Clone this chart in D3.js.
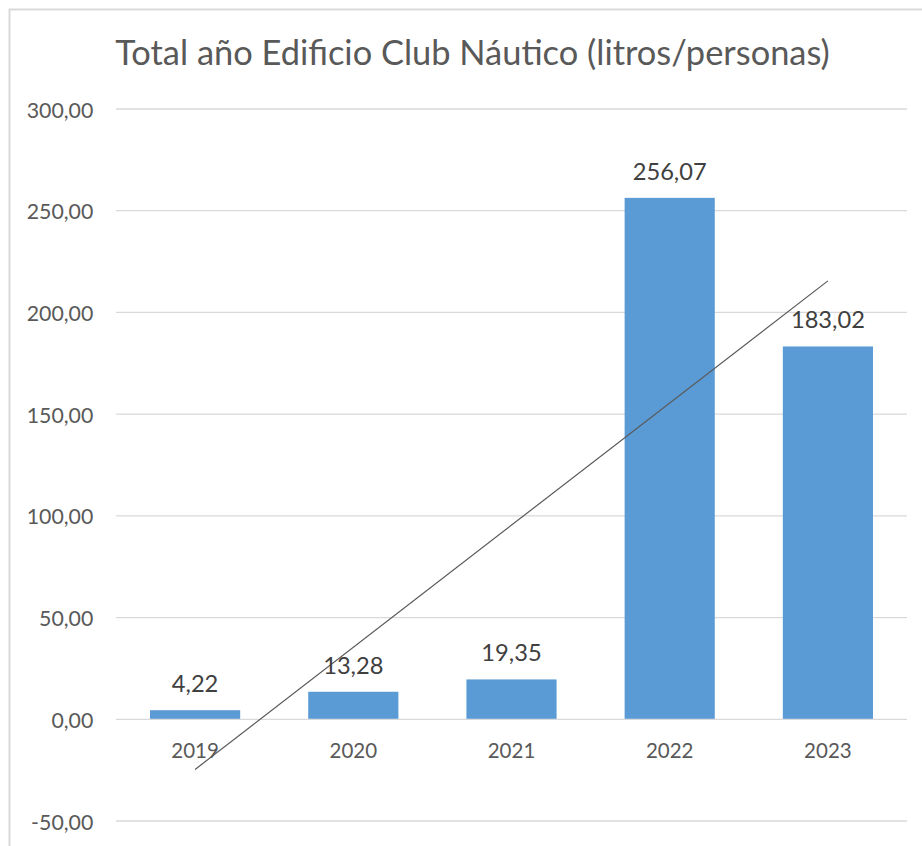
<!DOCTYPE html>
<html>
<head>
<meta charset="utf-8">
<script src="https://cdn.jsdelivr.net/npm/d3@7"></script>
<style>
  body { margin: 0; background: #fff; }
  svg { display: block; font-family: Lato, "Open Sans", sans-serif; }
</style>
</head>
<body>
<div id="graphic"></div>
<script>
// data
var years = ["2019", "2020", "2021", "2022", "2023"];
var litros = [4.22, 13.28, 19.35, 256.07, 183.02];
var yTicks = [-50, 0, 50, 100, 150, 200, 250, 300];
var titleText = "Total año Edificio Club Náutico (litros/personas)";

var W = 922, H = 846;
var plot = {left: 116, right: 907, top: 108.5, bottom: 820.5};

var esLocale = d3.formatLocale({decimal: ",", thousands: ".", grouping: [3], currency: ["", "€"], minus: "-"});
var fmt = esLocale.format(".2f");

var svg = d3.select("#graphic").append("svg")
    .attr("width", W)
    .attr("height", H);

// chart frame (cut off on the right and bottom like the screenshot)
svg.append("rect")
    .attr("x", 9.5).attr("y", 9.5)
    .attr("width", 940).attr("height", 880)
    .attr("fill", "#fff")
    .attr("stroke", "#d9d9d9")
    .attr("stroke-width", 2);

var x = d3.scaleBand()
    .domain(years)
    .range([plot.left, plot.right])
    .paddingInner(0.43)
    .paddingOuter(0.215);

var y = d3.scaleLinear()
    .domain([-50, 300])
    .range([plot.bottom, plot.top]);

// fits a font size so a sample string gets a given width
function fitSize(sample, target, base) {
  var t = svg.append("text").style("font-size", base + "px").text(sample);
  var w = t.node().getComputedTextLength();
  t.remove();
  return base * target / w;
}
var titleSize = fitSize(titleText, 715, 30);
var tickSize = fitSize("300,00", 66.7, 18);
var catSize = fitSize("2019", 47.6, 18);
var labelSize = fitSize("256,07", 74, 18);

// title
svg.append("text")
    .attr("x", 472.5)
    .attr("y", 65)
    .attr("text-anchor", "middle")
    .style("font-size", titleSize + "px")
    .style("fill", "#595959")
    .text(titleText);

// y axis + gridlines
var yAxis = svg.append("g")
    .attr("transform", "translate(" + plot.left + ",0)")
    .call(d3.axisLeft(y).tickValues(yTicks).tickFormat(fmt)
      .tickSize(-(plot.right - plot.left)).tickPadding(22.7));
yAxis.select(".domain").remove();
yAxis.selectAll("line").attr("stroke", "#d9d9d9").attr("stroke-width", 1.3);
yAxis.selectAll("text")
    .attr("dy", null)
    .attr("y", 8.6)
    .style("font-size", tickSize + "px")
    .style("font-family", "Lato, 'Open Sans', sans-serif")
    .style("fill", "#595959");

// bars
svg.selectAll(".bar")
    .data(litros)
  .enter().append("rect")
    .attr("class", "bar")
    .attr("x", function(d, i) { return x(years[i]); })
    .attr("y", function(d) { return y(d); })
    .attr("width", x.bandwidth())
    .attr("height", function(d) { return y(0) - y(d); })
    .style("fill", "#5b9bd5");

// x axis labels (below the zero line)
var xAxis = svg.append("g")
    .attr("transform", "translate(0," + y(0) + ")")
    .call(d3.axisBottom(x).tickSize(0));
xAxis.select(".domain").remove();
xAxis.selectAll("text")
    .attr("dy", null)
    .attr("y", 39.5)
    .style("font-size", catSize + "px")
    .style("font-family", "Lato, 'Open Sans', sans-serif")
    .style("fill", "#595959");

// linear trendline (least squares over the category index)
var idx = d3.range(litros.length);
var mx = d3.mean(idx), my = d3.mean(litros);
var slope = d3.sum(idx, function(i) { return (i - mx) * (litros[i] - my); }) /
            d3.sum(idx, function(i) { return (i - mx) * (i - mx); });
var icpt = my - slope * mx;
var ends = [0, litros.length - 1];
var trend = ends.map(function(i) { return [x(years[i]) + x.bandwidth() / 2, y(icpt + slope * i)]; });
svg.append("path")
    .attr("d", d3.line()(trend))
    .attr("fill", "none")
    .attr("stroke", "#595959")
    .attr("stroke-width", 1.2);

// value labels
svg.selectAll("text.val")
    .data(litros)
  .enter().append("text")
    .attr("class", "val")
    .attr("x", function(d, i) { return x(years[i]) + x.bandwidth() / 2; })
    .attr("y", function(d) { return y(d) - 18; })
    .attr("text-anchor", "middle")
    .style("font-size", labelSize + "px")
    .style("fill", "#404040")
    .text(function(d) { return fmt(d); });
</script>
</body>
</html>
